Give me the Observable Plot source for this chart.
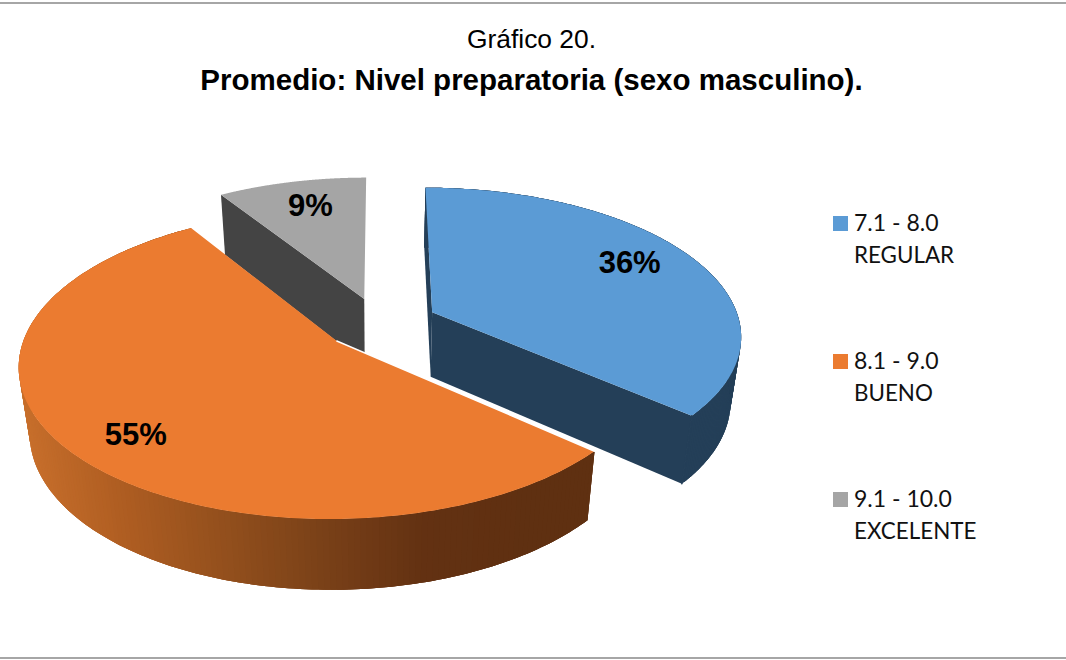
<!DOCTYPE html>
<html>
<head>
<meta charset="utf-8">
<script src="https://cdn.jsdelivr.net/npm/d3@7"></script>
<script src="https://cdn.jsdelivr.net/npm/@observablehq/plot@0.6"></script>
<style>
html,body{margin:0;padding:0;background:#fff;}
#wrap{position:relative;width:1066px;height:660px;overflow:hidden;}
#wrap svg{position:absolute;left:0;top:0;}
.rule{position:absolute;left:0;width:1066px;height:2px;background:#a6a6a6;}
.t{position:absolute;left:0;width:1063px;text-align:center;font-family:"Liberation Sans",Arial,sans-serif;color:#000;white-space:nowrap;}
.lg{position:absolute;font-family:"Lato","Open Sans",sans-serif;font-size:23px;line-height:32px;color:#111;white-space:nowrap;}
.lg span{font-size:22.4px;}
.sw{position:absolute;width:15px;height:15px;}
</style>
</head>
<body>
<div id="wrap"></div>
<script>
const categories = ["7.1 - 8.0", "8.1 - 9.0", "9.1 - 10.0"];
const qualities = ["REGULAR", "BUENO", "EXCELENTE"];
const values = [36.4, 54.5, 9.1];
const topColors = ["#5b9bd5", "#eb7b30", "#a5a5a5"];
const wallColors = ["#243f58", "#eb7b30", "#444444"];
const orangeWallStops = ["#c9702c", "#b05e22", "#94501d", "#7a4118", "#633112", "#5f3011", "#5f3011"];

const labelReach = [0.78, 0.81, 0.77];
const labelTurn = [-3, -4, 1];
const explode = [0.19, 0.18, 0.18];
const view = {cx: 379, cy: 323, rx: 308, ry: 146, p: 0.148, q: 0.03, depth: 67};

function project(X, Y, bottom) {
  const w = 1 + view.p * Y + (bottom ? view.q : 0);
  return {
    x: view.cx + view.rx * X / w,
    y: view.cy + (-view.ry * Y + (bottom ? view.depth : 0)) / w
  };
}

const total = d3.sum(values);
let acc = 0;
const slices = values.map((v, i) => {
  const a0 = acc / total * 2 * Math.PI;
  acc += v;
  const a1 = acc / total * 2 * Math.PI;
  const mid = (a0 + a1) / 2;
  return {i, a0, a1, mid, ox: explode[i] * Math.sin(mid), oy: explode[i] * Math.cos(mid)};
});

const steps = 200;
function rim(s) {
  return d3.range(steps + 1).map(k => {
    const a = s.a0 + (s.a1 - s.a0) * k / steps;
    return [s.ox + Math.sin(a), s.oy + Math.cos(a)];
  });
}

const polys = [];
function addPoly(id, pts, fill) {
  pts.forEach(([X, Y, b]) => {
    const p = project(X, Y, b);
    polys.push({id, x: p.x, y: p.y, fill});
  });
}
function quad(a, b) {
  return [[a[0], a[1], false], [b[0], b[1], false], [b[0], b[1], true], [a[0], a[1], true]];
}
function band(r) {
  return [...r.map(d => [d[0], d[1], false]), ...r.slice().reverse().map(d => [d[0], d[1], true])];
}

const wallRamp = d3.scaleLinear()
  .domain(d3.range(orangeWallStops.length).map(i => 25 + i * 100))
  .range(orangeWallStops)
  .clamp(true);

const paintOrder = [2, 0, 1];
paintOrder.forEach(i => {
  const s = slices[i];
  const r = rim(s);
  if (i !== 1) addPoly(`r0-${i}`, quad([s.ox, s.oy], r[0]), wallColors[i]);
  if (i === 0) addPoly(`r1-${i}`, quad([s.ox, s.oy], r[r.length - 1]), wallColors[i]);
  // the grey slice's rim faces away from the viewer, so only the other two get one;
  // strips run from the far end of the rim towards its start, each overlapping the last
  if (i !== 2) for (let k = r.length - 2; k >= 0; k--) {
    const px = project(r[k][0], r[k][1], true).x;
    const fill = i === 1 ? wallRamp(px) : wallColors[i];
    addPoly(`w-${i}-${k}`, band(r.slice(Math.max(0, k - 2), k + 2)), fill);
  }
  addPoly(`t-${i}`, [[s.ox, s.oy, false], ...r.map(d => [d[0], d[1], false])], topColors[i]);
});

const edge = slices[1];
const edgeEnd = rim(edge)[0];
const gapLine = [[edge.ox, edge.oy], edgeEnd].map(d => project(d[0], d[1], false));

const blueEnd = rim(slices[0])[steps];
const blueSeam = [project(blueEnd[0], blueEnd[1], false), project(blueEnd[0], blueEnd[1], true)];

const labels = slices.map(s => {
  const a = s.mid + labelTurn[s.i] * Math.PI / 180;
  const p = project(s.ox + labelReach[s.i] * Math.sin(a), s.oy + labelReach[s.i] * Math.cos(a), false);
  return {x: p.x, y: p.y, text: Math.round(values[s.i]) + "%"};
});

const chart = Plot.plot({
  width: 1066, height: 660,
  margin: 0,
  x: {domain: [0, 1066], range: [0, 1066], axis: null},
  y: {domain: [0, 660], range: [0, 660], axis: null},
  color: {type: "identity"},
  style: {background: "transparent"},
  marks: [
    Plot.line(polys, {x: "x", y: "y", z: "id", fill: "fill", stroke: "none", curve: "linear-closed"}),
    Plot.line(blueSeam, {x: "x", y: "y", stroke: wallColors[0], strokeWidth: 1.5}),
    Plot.line(gapLine, {x: "x", y: "y", stroke: "#ffffff", strokeWidth: 1.5}),
    Plot.text(labels, {x: "x", y: "y", text: "text", fill: "#000", fontSize: 31, fontWeight: "bold", fontFamily: "Liberation Sans, Arial, sans-serif", textAnchor: "middle", lineAnchor: "middle"})
  ]
});

const wrap = document.getElementById("wrap");
wrap.appendChild(chart);
function add(cls, style, text) {
  const d = document.createElement("div");
  d.className = cls;
  d.style.cssText = style;
  if (text) d.innerHTML = text;
  wrap.appendChild(d);
}
add("rule", "top:2px");
add("rule", "top:657px");
add("t", "top:24px;font-size:26.4px;line-height:30px", "Gráfico 20.");
add("t", "top:62px;font-size:29.5px;line-height:36px;font-weight:bold", "Promedio: Nivel preparatoria (sexo masculino).");
const legendTop = [206, 344, 482];
categories.forEach((c, i) => {
  add("sw", `left:833px;top:${legendTop[i] + 9.5}px;background:${topColors[i]}`);
  add("lg", `left:854px;top:${legendTop[i]}px`, `${c}<br><span>${qualities[i]}</span>`);
});
</script>
</body>
</html>
